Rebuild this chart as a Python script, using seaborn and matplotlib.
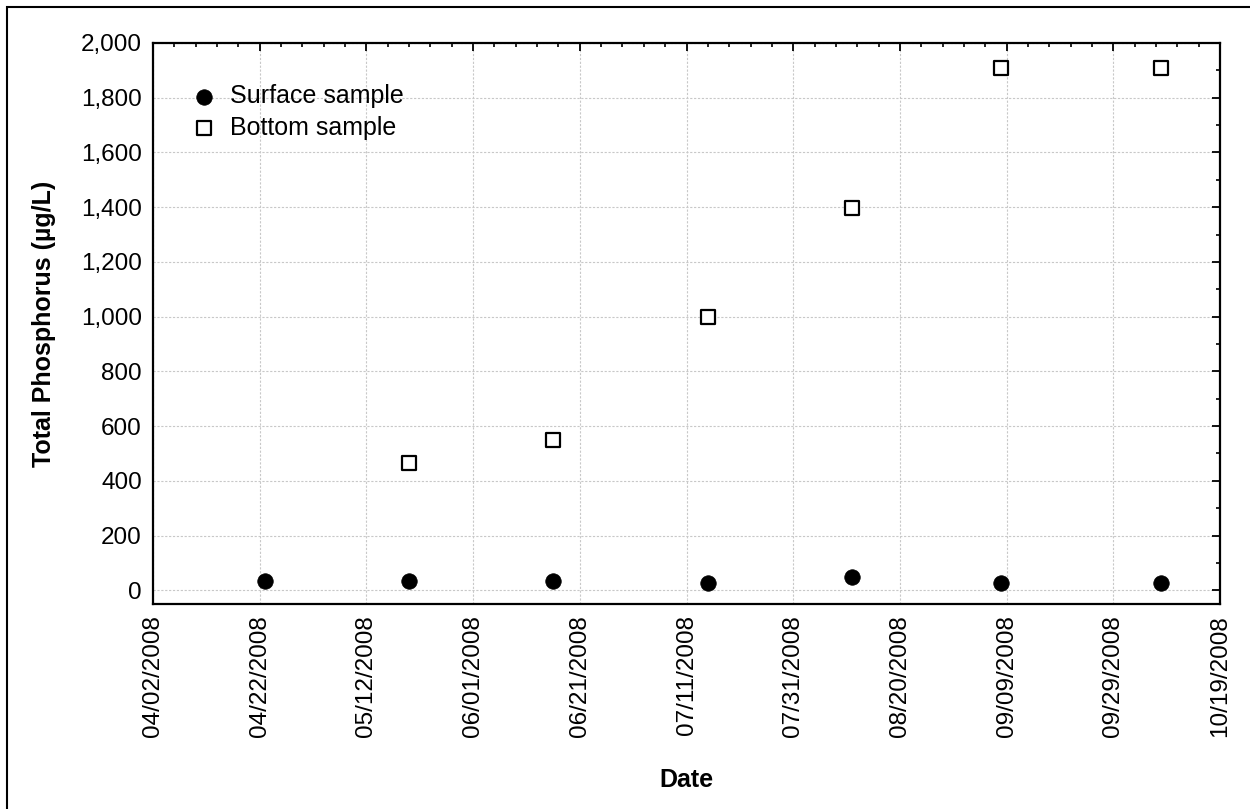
import numpy as np
import pandas as pd
import matplotlib
matplotlib.use("Agg")
import matplotlib.pyplot as plt
import matplotlib.dates as mdates
from matplotlib.ticker import FixedLocator, MultipleLocator, FuncFormatter
from matplotlib.patches import Rectangle
import seaborn as sns

# ---- data ----
sample_dates = ["2008-04-23", "2008-05-20", "2008-06-16", "2008-07-15",
                "2008-08-11", "2008-09-08", "2008-10-08"]
surface_tp = [33, 33, 33, 26, 48, 26, 26]
bottom_tp = [np.nan, 465, 551, 998, 1398, 1910, 1910]
x_start = "2008-04-02"
x_end = "2008-10-19"

sns.set_theme(style="white")
plt.rcParams['font.family'] = ['Liberation Sans', 'DejaVu Sans']
plt.rcParams['text.color'] = 'black'
plt.rcParams['axes.labelcolor'] = 'black'
plt.rcParams['xtick.color'] = 'black'
plt.rcParams['ytick.color'] = 'black'

dates = pd.to_datetime(sample_dates)
df_s = pd.DataFrame({"Date": dates, "TP": surface_tp})
df_b = pd.DataFrame({"Date": dates, "TP": bottom_tp}).dropna()

fig = plt.figure(figsize=(12.5, 8.09), dpi=100)
ax = fig.add_axes([153/1250, 1-604/809, (1220-153)/1250, (604-43)/809])

sns.scatterplot(data=df_s, x="Date", y="TP", ax=ax, marker="o", s=125,
                color="black", edgecolor="black", linewidth=0.5,
                label="Surface sample", zorder=3)
sns.scatterplot(data=df_b, x="Date", y="TP", ax=ax, marker="s", s=105,
                facecolor="white", edgecolor="black", linewidth=1.6,
                label="Bottom sample", zorder=3)

ax.set_xlim(pd.Timestamp(x_start), pd.Timestamp(x_end))
ax.set_ylim(-50, 2000)

major_dates = pd.date_range(x_start, x_end, freq="20D")
minor_dates = pd.date_range(x_start, x_end, freq="4D")
ax.xaxis.set_major_locator(FixedLocator(mdates.date2num(major_dates)))
ax.xaxis.set_minor_locator(FixedLocator(mdates.date2num(minor_dates)))
ax.xaxis.set_major_formatter(mdates.DateFormatter("%m/%d/%Y"))
ax.yaxis.set_major_locator(MultipleLocator(200))
ax.yaxis.set_minor_locator(MultipleLocator(100))
ax.yaxis.set_major_formatter(FuncFormatter(lambda v, p: f"{int(v):,}"))

ax.tick_params(axis="both", which="major", direction="in", length=6, width=1.3,
               top=True, right=True, labelsize=17.5, color="black",
               labelcolor="black", pad=8)
ax.tick_params(axis="both", which="minor", direction="in", length=3, width=1.2,
               top=True, right=True, color="black")
ax.tick_params(axis="x", which="major", labelrotation=90)

ax.grid(True, which="major", color="#c8c8c8", linestyle=(0, (2, 1.5)), linewidth=0.8)
for sp in ax.spines.values():
    sp.set_visible(True)
    sp.set_color("black")
    sp.set_linewidth(1.6)

ax.set_xlabel("Date", fontsize=18, fontweight="bold", labelpad=22, color="black")
ax.set_ylabel("Total Phosphorus (µg/L)", fontsize=18, fontweight="bold",
              labelpad=18, color="black")

leg = ax.legend(loc="upper left", bbox_to_anchor=(0.027, 0.944), frameon=False,
                fontsize=18, handlelength=1.0, handletextpad=0.54,
                labelspacing=0.29, borderaxespad=0)
for h in leg.legend_handles:
    try:
        h.set_sizes([125 if h.get_label() != "Bottom sample" else 105])
    except Exception:
        pass
for t in leg.get_texts():
    t.set_color("black")

fig.add_artist(Rectangle((7/1250, -0.1), 1.2, 1.1 - 7/809, transform=fig.transFigure,
                         fill=False, edgecolor="black", linewidth=1.5))

fig.savefig("out.png", dpi=100)
